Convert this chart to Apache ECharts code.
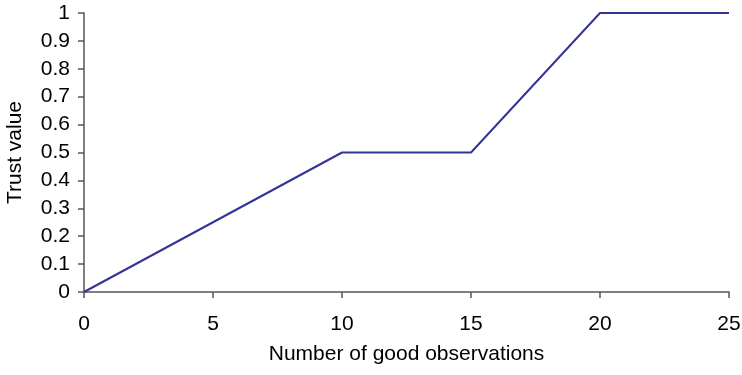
<!DOCTYPE html>
<html><head><meta charset="utf-8">
<script src="https://cdn.jsdelivr.net/npm/echarts@6/dist/echarts.min.js"></script>
<style>html,body{margin:0;padding:0;background:#fff}#c{width:742px;height:375px}</style>
</head><body><div id="c"></div>
<script>
var xValues = [0, 10, 15, 20, 25];
var trustValues = [0, 0.5, 0.5, 1, 1];
var xTicks = [0, 5, 10, 15, 20, 25];
var yTicks = [0, 0.1, 0.2, 0.3, 0.4, 0.5, 0.6, 0.7, 0.8, 0.9, 1];
var data = xValues.map(function (x, i) { return [x, trustValues[i]]; });
var font = 'Liberation Sans, Arial, Helvetica, sans-serif';
var axisColor = '#555';
var chart = echarts.init(document.getElementById('c'), null, {renderer: 'canvas'});
chart.setOption({
  animation: false,
  grid: {left: 84, right: 13, top: 13, bottom: 83, containLabel: false, outerBoundsMode: 'none'},
  xAxis: {
    type: 'value', min: 0, max: 25, interval: 5,
    name: 'Number of good observations', nameLocation: 'middle', nameGap: 52,
    nameTextStyle: {fontFamily: font, fontSize: 21, color: '#000'},
    axisLine: {show: true, lineStyle: {color: axisColor, width: 1.5}},
    axisTick: {show: true, length: 6, lineStyle: {color: axisColor, width: 1.5}},
    axisLabel: {margin: 22, fontFamily: font, fontSize: 21, color: '#000'},
    splitLine: {show: false}
  },
  yAxis: {
    type: 'value', min: 0, max: 1, interval: 0.1,
    name: 'Trust value', nameLocation: 'middle', nameGap: 58,
    nameTextStyle: {fontFamily: font, fontSize: 21, color: '#000'},
    axisLine: {show: true, lineStyle: {color: axisColor, width: 1.5}},
    axisTick: {show: true, length: 6, lineStyle: {color: axisColor, width: 1.5}},
    axisLabel: {margin: 14, fontFamily: font, fontSize: 21, color: '#000',
      formatter: function (v) { return String(Math.round(v * 10) / 10); }},
    splitLine: {show: false}
  },
  series: [{
    type: 'line', data: data, showSymbol: false, symbol: 'none',
    lineStyle: {color: '#333399', width: 2},
    itemStyle: {color: '#333399'}
  }]
});
</script></body></html>
